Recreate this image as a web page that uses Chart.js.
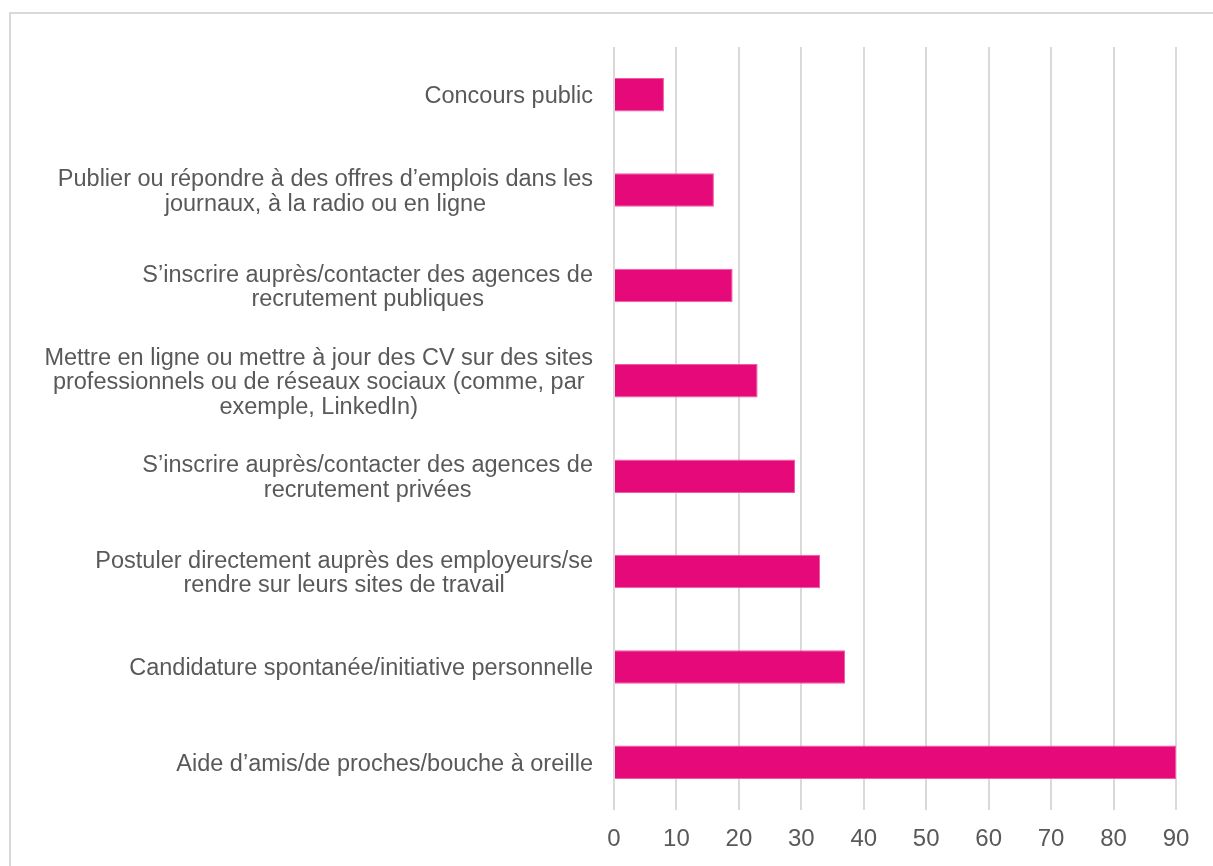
<!DOCTYPE html>
<html>
<head>
<meta charset="utf-8">
<script src="https://cdn.jsdelivr.net/npm/chart.js@4"></script>
<style>
  html, body { margin: 0; padding: 0; background: #fff; overflow: hidden; }
  #cadre {
    position: absolute; left: 9px; top: 12px;
    width: 1240px; height: 900px;
    border: 2px solid #d9d9d9;
  }
  #zone { position: absolute; left: 0; top: 0; width: 1213px; height: 866px; }
</style>
</head>
<body>
<div id="cadre"></div>
<div id="zone"><canvas id="miGrafico"></canvas></div>
<script>
// categories, de haut en bas
const categories = [
    ['Concours public'],
    ['Publier ou répondre à des offres d’emplois dans les', 'journaux, à la radio ou en ligne'],
    ['S’inscrire auprès/contacter des agences de', 'recrutement publiques'],
    ['Mettre en ligne ou mettre à jour des CV sur des sites', 'professionnels ou de réseaux sociaux (comme, par', 'exemple, LinkedIn)'],
    ['S’inscrire auprès/contacter des agences de', 'recrutement privées'],
    ['Postuler directement auprès des employeurs/se', 'rendre sur leurs sites de travail'],
    ['Candidature spontanée/initiative personnelle'],
    ['Aide d’amis/de proches/bouche à oreille']
];
const valeurs = [8, 16, 19, 23, 29, 33, 37, 90];
const ticksX = [0, 10, 20, 30, 40, 50, 60, 70, 80, 90];

const police = "'Liberation Sans', Arial, sans-serif";

// etiquettes de l'axe y : blocs alignes a droite, lignes centrees entre elles
const etiquettes = {
    id: 'etiquettes',
    afterDraw(chart) {
        const ctx = chart.ctx;
        const y = chart.scales.y;
        const droite = y.right - 21;
        ctx.save();
        ctx.font = '23.5px ' + police;
        ctx.fillStyle = '#595959';
        ctx.textAlign = 'center';
        ctx.textBaseline = 'middle';
        categories.forEach((lignes, i) => {
            const yc = y.getPixelForTick(i) + 2;
            let larg = 0;
            for (const l of lignes) larg = Math.max(larg, ctx.measureText(l).width);
            const xc = droite - larg / 2;
            const h = 24.5;
            lignes.forEach((l, k) => {
                ctx.fillText(l, xc, yc + (k - (lignes.length - 1) / 2) * h);
            });
        });
        ctx.restore();
    }
};

var ctx = document.getElementById('miGrafico').getContext('2d');
var myChart = new Chart(ctx, {
    type: 'bar',
    data: {
        labels: categories.map(c => c.join(' ')),
        datasets: [{
            data: valeurs,
            backgroundColor: '#e6097a',
            borderColor: '#ee5aa3',
            borderWidth: 1,
            categoryPercentage: 1,
            barPercentage: 0.35
        }]
    },
    options: {
        indexAxis: 'y',
        responsive: true,
        maintainAspectRatio: false,
        animation: false,
        layout: { padding: { top: 47, right: 37, left: 0, bottom: 0 } },
        plugins: {
            legend: { display: false },
            tooltip: { enabled: false }
        },
        scales: {
            x: {
                min: 0,
                max: 90,
                afterBuildTicks: (scale) => { scale.ticks = ticksX.map(v => ({ value: v })); },
                afterFit: (scale) => { scale.height = 866 - 810; },
                grid: { color: '#d9d9d9', lineWidth: 2, drawTicks: false },
                border: { display: false },
                ticks: {
                    padding: 15,
                    color: '#595959',
                    font: { family: police, size: 24 }
                }
            },
            y: {
                afterFit: (scale) => { scale.width = 614; },
                grid: { display: false },
                border: { display: false },
                ticks: { display: false }
            }
        }
    },
    plugins: [etiquettes]
});
</script>
</body>
</html>
